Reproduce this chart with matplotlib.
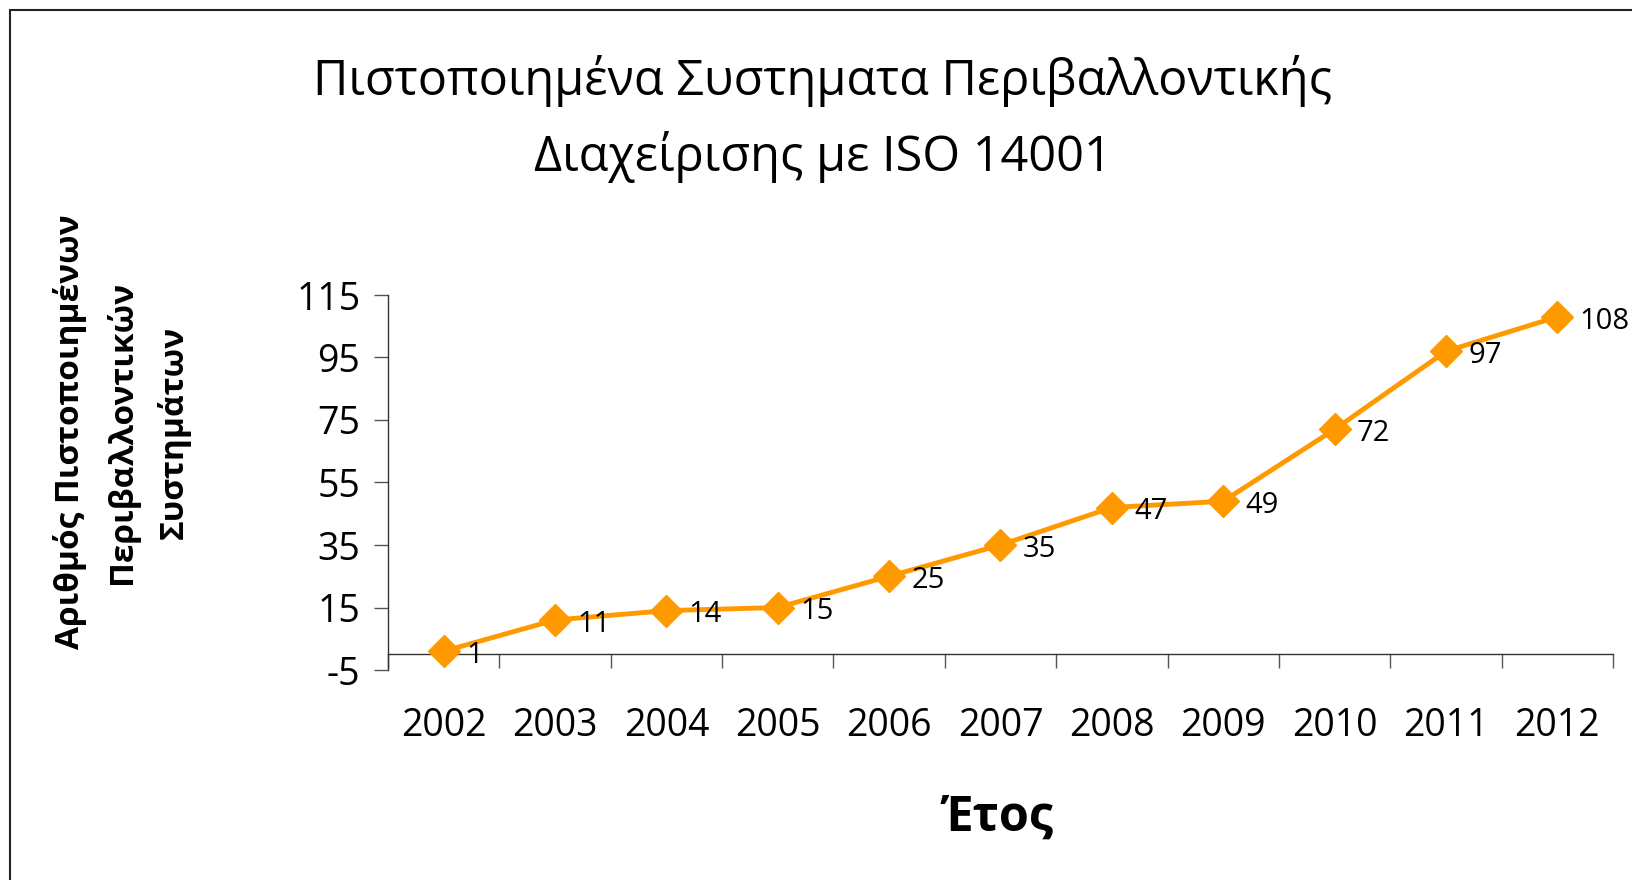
import matplotlib
matplotlib.use("Agg")
import matplotlib.pyplot as plt
from matplotlib.patches import Rectangle
from matplotlib.ticker import FixedLocator

years = ["2002", "2003", "2004", "2005", "2006", "2007",
         "2008", "2009", "2010", "2011", "2012"]
counts = [1, 11, 14, 15, 25, 35, 47, 49, 72, 97, 108]
y_ticks = [-5, 15, 35, 55, 75, 95, 115]

title = "Πιστοποιημένα Συστηματα Περιβαλλοντικής\nΔιαχείρισης με ISO 14001"
y_label = "Αριθμός Πιστοποιημένων\nΠεριβαλλοντικών\nΣυστημάτων"
x_label = "Έτος"

plt.rcParams['font.family'] = ['Open Sans', 'DejaVu Sans']
plt.rcParams['axes.unicode_minus'] = False

W, H = 1633, 880
fig = plt.figure(figsize=(W / 100, H / 100), dpi=100)

# outer chart border (only top and left edges are visible in the crop)
fig.patches.append(Rectangle((10 / W, -0.1), 1.2, 1 - 10 / H + 0.1,
                             transform=fig.transFigure, fill=False,
                             edgecolor='#222222', linewidth=1.5))

ax = fig.add_axes([388 / W, 1 - 670 / H, (1613 - 388) / W, (670 - 295) / H])

orange = '#FF9900'
x = list(range(len(years)))
ax.plot(x, counts, color=orange, linewidth=3.5, marker='D', markersize=16,
        markeredgecolor=orange, zorder=3, clip_on=False)

for xi, v in zip(x, counts):
    ax.annotate(str(v), (xi, v), textcoords="offset points", xytext=(16, -3),
                ha='left', va='center', fontsize=21)

ax.set_xlim(-0.5, len(years) - 0.5)
ax.set_ylim(-5, 115)
ax.set_yticks(y_ticks)
ax.tick_params(axis='y', labelsize=27, length=10, width=1, direction='out',
               color='#555555', pad=10)

# category axis crossing at zero
ax.spines['bottom'].set_position(('data', 0))
ax.spines['top'].set_visible(False)
ax.spines['right'].set_visible(False)
for s in ('left', 'bottom'):
    ax.spines[s].set_color('#333333')
    ax.spines[s].set_linewidth(1)

ax.set_xticks(x)
ax.set_xticklabels(years)
ax.xaxis.set_minor_locator(FixedLocator([i + 0.5 for i in range(-1, len(years))]))
ax.tick_params(axis='x', which='major', length=0, labelsize=27, pad=38)
ax.tick_params(axis='x', which='minor', length=10, width=1, direction='out',
               color='#555555')

fig.text(823 / W, 1 - 119 / H, title, ha='center', va='center',
         fontsize=35, linespacing=1.6)
fig.text(122 / W, 1 - 432 / H, y_label, ha='center', va='center',
         rotation=90, fontsize=24, fontweight='bold', linespacing=1.7)
fig.text(998 / W, 1 - 818 / H, x_label, ha='center', va='center',
         fontsize=35, fontweight='bold')

fig.savefig("out.png", dpi=100)
